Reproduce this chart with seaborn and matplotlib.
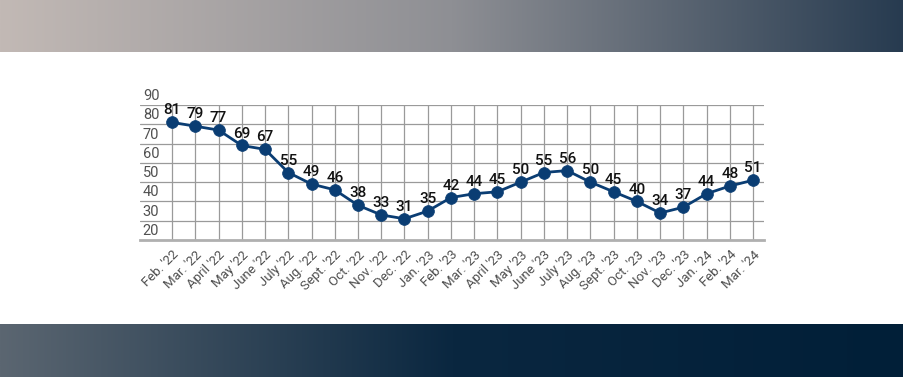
import numpy as np
import matplotlib
matplotlib.use("Agg")
import matplotlib.pyplot as plt
import matplotlib.transforms as mtransforms
import seaborn as sns

months = ["Feb. '22", "Mar. '22", "April '22", "May '22", "June '22", "July '22",
          "Aug. '22", "Sept. '22", "Oct. '22", "Nov. '22", "Dec. '22", "Jan. '23",
          "Feb. '23", "Mar. '23", "April '23", "May '23", "June '23", "July '23",
          "Aug. '23", "Sept. '23", "Oct. '23", "Nov. '23", "Dec. '23", "Jan. '24",
          "Feb. '24", "Mar. '24"]
values = [81, 79, 77, 69, 67, 55, 49, 46, 38, 33, 31, 35, 42, 44, 45, 50, 55, 56,
          50, 45, 40, 34, 37, 44, 48, 51]
y_ticks = [20, 30, 40, 50, 60, 70, 80, 90]

sns.set_style("white")
plt.rcParams['font.family'] = ['Roboto', 'DejaVu Sans']

W, H = 904, 377
fig = plt.figure(figsize=(W / 100, H / 100), dpi=100)
fig.patch.set_facecolor("white")


def band(y0, y1, left_rgb, mid_rgb, right_rgb, mid_at):
    ax_b = fig.add_axes([0, 1 - y1 / H, 1, (y1 - y0) / H])
    t = np.linspace(0, 1, 400)
    cols = np.zeros((1, 400, 3))
    for c in range(3):
        cols[0, :, c] = np.interp(t, [0, mid_at, 1],
                                  [left_rgb[c], mid_rgb[c], right_rgb[c]])
    ax_b.imshow(cols, aspect="auto", extent=[0, 1, 0, 1])
    ax_b.set_axis_off()


def rgb(h):
    h = h.lstrip("#")
    return [int(h[i:i + 2], 16) / 255 for i in (0, 2, 4)]


band(0, 52, rgb("#c2b9b5"), rgb("#8e8f94"), rgb("#273b50"), 0.5)
band(324, 377, rgb("#5b6671"), rgb("#0a2740"), rgb("#011f38"), 0.5)

ax = fig.add_axes([140 / W, 1 - 240 / H, (764 - 140) / W, (240 - 105) / H])
x = np.arange(len(values))
navy = "#0a3d73"
sns.lineplot(x=x, y=values, ax=ax, color=navy, linewidth=2, marker="o",
             markersize=8.5, markeredgecolor=navy, markeredgewidth=0.5)

for xi, v in zip(x, values):
    ax.annotate(str(v), (xi, v), xytext=(0, 3.5), textcoords="offset points",
                ha="center", va="bottom", fontsize=11, fontweight="medium",
                color="#111111")

ax.set_xlim(-1.38, 25.47)
ax.set_ylim(20, 90)
ax.set_xticks(x)
ax.set_xticklabels(months, rotation=45, ha="right", rotation_mode="anchor",
                   fontsize=9.5, color="#505050")
ax.set_yticks(y_ticks)
ax.tick_params(axis="both", length=0)
ax.tick_params(axis="x", pad=6)
ax.tick_params(axis="y", pad=-2, labelsize=10.5, labelcolor="#505050")
offset = mtransforms.ScaledTranslation(0, 2 / 100, fig.dpi_scale_trans)
for lbl in ax.get_yticklabels():
    lbl.set_horizontalalignment("left")
    lbl.set_verticalalignment("bottom")
    lbl.set_transform(lbl.get_transform() + offset)

ax.grid(True, color="#9a9a9a", linewidth=0.9)
ax.set_axisbelow(True)
for s in ["top", "right", "left"]:
    ax.spines[s].set_visible(False)
ax.spines["bottom"].set_color("#b0b0b0")
ax.spines["bottom"].set_linewidth(2)
ax.set_facecolor("none")

fig.savefig("out.png", dpi=100)
